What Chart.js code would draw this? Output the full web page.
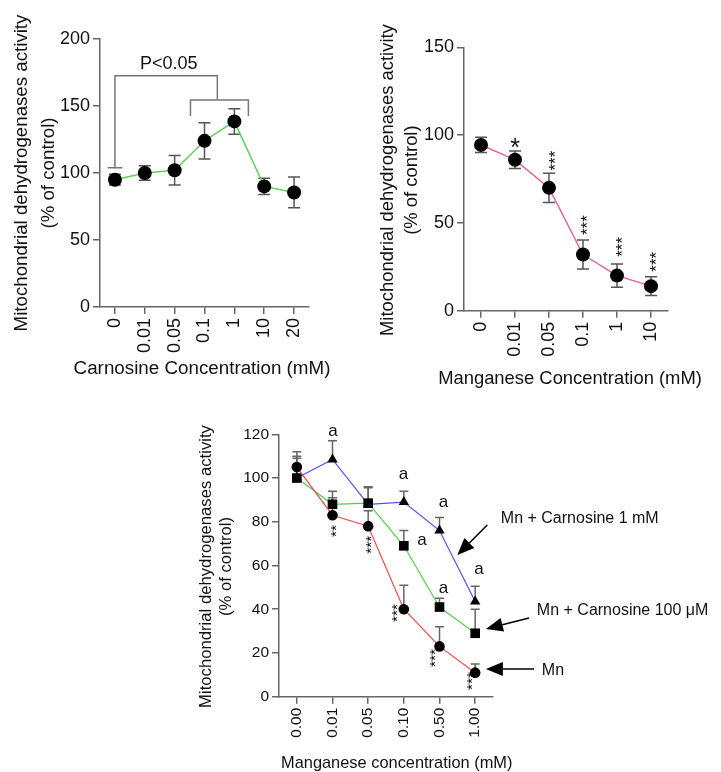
<!DOCTYPE html>
<html><head><meta charset="utf-8">
<script src="https://cdn.jsdelivr.net/npm/chart.js@4.4.1/dist/chart.umd.min.js"></script>
<style>
html,body{margin:0;padding:0;background:#fff;width:721px;height:772px;overflow:hidden;}
canvas{position:absolute;}
</style></head><body>
<canvas id="c1" width="360" height="390" style="left:0;top:0"></canvas>
<canvas id="c2" width="361" height="390" style="left:360px;top:0"></canvas>
<canvas id="c3" width="531" height="382" style="left:190px;top:390px"></canvas>
<script>
// ---------- DATA ----------
const carnosineLabels = ['0','0.01','0.05','0.1','1','10','20'];
const carnosineMean = [95,100,102,124,138.5,90,85.5];
const carnosineSD = [4,5.5,11,13.5,9.5,6,11.5];

const manganeseLabels = ['0','0.01','0.05','0.1','1','10'];
const manganeseMean = [94.5,86,70,32,20,14];
const manganeseSD = [4.3,5,8.3,8.3,6.6,5.3];
const manganeseSig = ['', '*', '***', '***', '***', '***'];

const mnLabels = ['0.00','0.01','0.05','0.10','0.50','1.00'];
const mnOnly = [105,83,78,40,23,11];
const mnOnlyErr = [7,8,7,11,9,4];
const mnCarn100 = [100,88,88.5,69,41,29];
const mnCarn100Err = [10,6,7,7,4,11];
const mnCarn1 = [100,108.5,88,89,76,43.5];
const mnCarn1Err = [9,8.5,8,5,6,7];
const mnOnlySig = ['', '**', '***', '***', '***', '***'];
const seriesNames = ['Mn', 'Mn + Carnosine 100 \u03bcM', 'Mn + Carnosine 1 mM'];

const yTitle = ['Mitochondrial dehydrogenases activity','(% of control)'];
const xTitle1 = 'Carnosine Concentration (mM)';
const xTitle2 = 'Manganese Concentration (mM)';
const xTitle3 = 'Manganese concentration (mM)';

// ---------- STYLE ----------
const FF = '"Liberation Sans", Arial, Helvetica, sans-serif';
const AX = '#666';
const TXT = '#111';

function drawText(ctx, txt, x, y, size, align){
  ctx.save(); ctx.font = size+'px '+FF; ctx.fillStyle=TXT;
  ctx.textAlign = align||'center'; ctx.textBaseline='middle';
  ctx.fillText(txt, x, y); ctx.restore();
}
function drawStars(ctx, txt, x, y, size, rotate){
  ctx.save(); ctx.translate(x,y); if(rotate) ctx.rotate(-Math.PI/2);
  ctx.font = size+'px '+FF; ctx.fillStyle=TXT; ctx.textAlign='center'; ctx.textBaseline='alphabetic';
  ctx.fillText(txt, 0, 0.575*size); ctx.restore();
}
function arrow(ctx, x1,y1,x2,y2,L,W){
  const a = Math.atan2(y2-y1, x2-x1);
  const bx = x2 - L*Math.cos(a), by = y2 - L*Math.sin(a);
  ctx.save(); ctx.strokeStyle='#000'; ctx.fillStyle='#000'; ctx.lineWidth=1.5;
  ctx.beginPath(); ctx.moveTo(x1,y1); ctx.lineTo(bx,by); ctx.stroke();
  ctx.beginPath(); ctx.moveTo(x2,y2);
  ctx.lineTo(bx - W*Math.sin(a), by + W*Math.cos(a));
  ctx.lineTo(bx + W*Math.sin(a), by - W*Math.cos(a));
  ctx.closePath(); ctx.fill(); ctx.restore();
}

const errorBars = {
  id:'errorBars',
  beforeDatasetsDraw(chart){
    const ctx = chart.ctx, ys = chart.scales.y;
    ctx.save();
    chart.data.datasets.forEach((ds,i)=>{
      if(!ds.errUp) return;
      const meta = chart.getDatasetMeta(i);
      meta.data.forEach((pt,j)=>{
        const v = ds.data[j], x = pt.x, cap = ds.errCap;
        const yT = ys.getPixelForValue(v + ds.errUp[j]);
        const yB = ds.errDown ? ys.getPixelForValue(v - ds.errDown[j]) : pt.y;
        ctx.strokeStyle = ds.errColor; ctx.lineWidth = 1.5;
        ctx.beginPath();
        ctx.moveTo(x, yT); ctx.lineTo(x, yB);
        ctx.moveTo(x-cap, yT); ctx.lineTo(x+cap, yT);
        if(ds.errDown){ ctx.moveTo(x-cap, yB); ctx.lineTo(x+cap, yB); }
        ctx.stroke();
      });
    });
    ctx.restore();
  }
};

// axis titles drawn without width compression
function axisTitles(c){
  return {
    id:'axisTitles',
    afterDraw(chart){
      const ctx = chart.ctx, ca = chart.chartArea;
      ctx.save();
      ctx.font = c.ySize+'px '+FF; ctx.fillStyle=TXT; ctx.textAlign='center'; ctx.textBaseline='middle';
      ctx.translate(c.yX, (ca.top+ca.bottom)/2 + (c.ydy||0)); ctx.rotate(-Math.PI/2);
      c.yText.forEach((t,i)=>ctx.fillText(t, 0, i*c.yLH));
      ctx.restore();
      drawText(ctx, c.xText, (ca.left+ca.right)/2 + c.xdx, c.xY, c.xSize);
    }
  };
}

function yScale(max, step, tickSize, width){
  return {
    min:0, max:max,
    ticks:{stepSize:step, color:TXT, font:{family:FF,size:tickSize}, padding:3},
    grid:{display:true, drawOnChartArea:false, drawTicks:true, tickLength:7, color:AX, lineWidth:1.5},
    border:{display:true, color:AX, width:1.5},
    title:{display:false},
    afterFit(s){ s.width = width; }
  };
}
function xScale(tickSize, height){
  return {
    type:'category', offset:true,
    ticks:{color:TXT, font:{family:FF,size:tickSize}, minRotation:90, maxRotation:90, autoSkip:false, padding:4},
    grid:{display:true, drawOnChartArea:false, drawTicks:true, tickLength:7, color:AX, lineWidth:1.5, offset:false},
    border:{display:true, color:AX, width:1.5},
    title:{display:false},
    afterFit(s){ s.height = height; }
  };
}
const baseOpts = {responsive:false, animation:false, events:[],
  plugins:{legend:{display:false}, tooltip:{enabled:false}}};

// ---------- CHART 1 ----------
const ann1 = {
  id:'ann1',
  afterDatasetsDraw(chart){
    const ctx=chart.ctx, X=v=>chart.scales.x.getPixelForValue(v), Y=v=>chart.scales.y.getPixelForValue(v);
    ctx.save(); ctx.strokeStyle='#777'; ctx.lineWidth=1.5; ctx.beginPath();
    ctx.moveTo(X(-0.25),Y(104)); ctx.lineTo(X(0.25),Y(104));
    ctx.moveTo(X(0),Y(104)); ctx.lineTo(X(0),Y(172.5)); ctx.lineTo(X(3.43),Y(172.5)); ctx.lineTo(X(3.43),Y(154.5));
    ctx.moveTo(X(2.53),Y(142.5)); ctx.lineTo(X(2.53),Y(154.5)); ctx.lineTo(X(4.47),Y(154.5)); ctx.lineTo(X(4.47),Y(142.5));
    ctx.stroke(); ctx.restore();
    drawText(ctx,'P<0.05',X(1.8),Y(181.3),18);
  }
};
new Chart(document.getElementById('c1'),{
  type:'line',
  data:{labels:carnosineLabels, datasets:[{
    data:carnosineMean, borderColor:'#5fcf5f', borderWidth:1.5, tension:0,
    pointRadius:7, pointBackgroundColor:'#000', pointBorderColor:'#000', pointBorderWidth:0,
    errUp:carnosineSD, errDown:carnosineSD, errColor:'#555', errCap:6, clip:false
  }]},
  options:Object.assign({}, baseOpts, {
    layout:{padding:{left:0,top:39,right:51,bottom:0}},
    scales:{ x:xScale(18, 83), y:yScale(200, 50, 18, 100) }
  }),
  plugins:[errorBars, ann1, axisTitles({yText:yTitle, ySize:18.7, yX:22, yLH:26.5, xText:xTitle1, xSize:18.8, xdx:-2.5, xY:369})]
});

// ---------- CHART 2 ----------
const ann2Pos = [null, [1,96.2], [2.08,85.5], [3.0,48.8], [4.04,36.4], [5.03,27.9]];
const ann2 = {
  id:'ann2',
  afterDatasetsDraw(chart){
    const ctx=chart.ctx, X=v=>chart.scales.x.getPixelForValue(v), Y=v=>chart.scales.y.getPixelForValue(v);
    manganeseSig.forEach((s,i)=>{
      if(!s) return;
      const p = ann2Pos[i];
      if(s==='*') drawStars(ctx,s,X(p[0]),Y(p[1]),25,false);
      else drawStars(ctx,s,X(p[0]),Y(p[1]),17,true);
    });
  }
};
new Chart(document.getElementById('c2'),{
  type:'line',
  data:{labels:manganeseLabels, datasets:[{
    data:manganeseMean, borderColor:'#e8609e', borderWidth:1.5, tension:0,
    pointRadius:7, pointBackgroundColor:'#000', pointBorderColor:'#000', pointBorderWidth:0,
    errUp:manganeseSD, errDown:manganeseSD, errColor:'#555', errCap:6, clip:false
  }]},
  options:Object.assign({}, baseOpts, {
    layout:{padding:{left:0,top:47.5,right:53,bottom:0}},
    scales:{ x:xScale(18, 79.3), y:yScale(150, 50, 18, 104) }
  }),
  plugins:[errorBars, ann2, axisTitles({yText:yTitle, ySize:18.4, yX:28, yLH:24, ydy:1, xText:xTitle2, xSize:18.4, xdx:4, xY:379})]
});

// ---------- CHART 3 ----------
const ann3Letters = [[1.01,121.2],[2.99,101.9],[4.11,88.7],[5.11,58.3],[3.51,71.7],[4.11,49.6]];
const ann3StarPos = [null,[1.0,75.8],[1.97,69.5],[2.71,38.3],[3.77,17.7],[4.79,7.2]];
const ann3Arrows = [ // tail, tip, label position (left)
  {tail:[6.65,12.7], tip:[5.3,12.7], lab:[6.87,11.9]},
  {tail:[6.51,36], tip:[5.3,31], lab:[6.73,39.2]},
  {tail:[5.34,78.5], tip:[4.5,64.8], lab:[5.72,81.3]}
];
const ann3 = {
  id:'ann3',
  afterDatasetsDraw(chart){
    const ctx=chart.ctx, X=v=>chart.scales.x.getPixelForValue(v), Y=v=>chart.scales.y.getPixelForValue(v);
    ann3Letters.forEach(p=>drawText(ctx,'a',X(p[0]),Y(p[1]),17));
    mnOnlySig.forEach((s,i)=>{ if(!s) return; const p=ann3StarPos[i]; drawStars(ctx,s,X(p[0]),Y(p[1]),15.5,true); });
    ann3Arrows.forEach((a,i)=>{
      arrow(ctx, X(a.tail[0]),Y(a.tail[1]), X(a.tip[0]),Y(a.tip[1]), 17, 7);
      drawText(ctx, seriesNames[i], X(a.lab[0]), Y(a.lab[1]), 16, 'left');
    });
  }
};
function ds3(data, err, color, style, r){
  return {data:data, borderColor:color, borderWidth:1.2, tension:0, pointStyle:style,
    pointRadius:r, pointBackgroundColor:'#000', pointBorderColor:'#000', pointBorderWidth:0,
    errUp:err, errColor:'#666', errCap:4.5, clip:false};
}
new Chart(document.getElementById('c3'),{
  type:'line',
  data:{labels:mnLabels, datasets:[
    ds3(mnOnly, mnOnlyErr, '#ee4a4a', 'circle', 5.3),
    ds3(mnCarn100, mnCarn100Err, '#55cc55', 'rect', 6.8),
    ds3(mnCarn1, mnCarn1Err, '#5050ee', 'triangle', 6)
  ]},
  options:Object.assign({}, baseOpts, {
    layout:{padding:{left:0,top:44.3,right:228,bottom:0}},
    scales:{ x:xScale(15.5, 75.3), y:yScale(120, 20, 15.5, 89) }
  }),
  plugins:[errorBars, ann3, axisTitles({yText:yTitle, ySize:16.7, yX:16.7, yLH:20, ydy:1, xText:xTitle3, xSize:16.4, xdx:10.7, xY:373})]
});
</script>
</body></html>
